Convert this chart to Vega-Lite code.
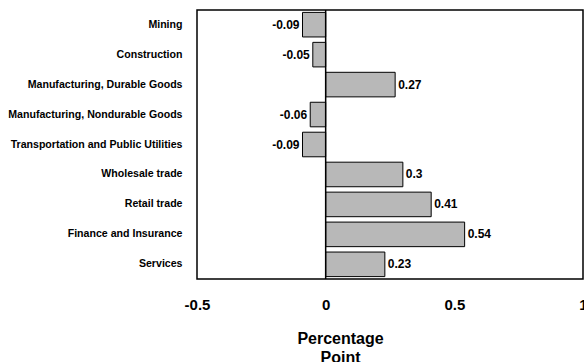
{
  "$schema": "https://vega.github.io/schema/vega-lite/v6.json",
  "width": 386,
  "height": 269,
  "autosize": "none",
  "padding": {"left": 197, "top": 10, "right": 1, "bottom": 83},
  "data": {
    "values": [
      {"sector": "Mining", "v": -0.09},
      {"sector": "Construction", "v": -0.05},
      {"sector": "Manufacturing, Durable Goods", "v": 0.27},
      {"sector": "Manufacturing, Nondurable Goods", "v": -0.06},
      {"sector": "Transportation and Public Utilities", "v": -0.09},
      {"sector": "Wholesale trade", "v": 0.3},
      {"sector": "Retail trade", "v": 0.41},
      {"sector": "Finance and Insurance", "v": 0.54},
      {"sector": "Services", "v": 0.23}
    ]
  },
  "encoding": {
    "y": {
      "field": "sector",
      "type": "nominal",
      "sort": null,
      "scale": {"paddingInner": 0.18, "paddingOuter": 0.08},
      "axis": {
        "title": null,
        "domain": false,
        "ticks": false,
        "labelPadding": 15,
        "labelFont": "Liberation Sans",
        "labelFontWeight": "bold",
        "labelFontSize": 10.6,
        "labelColor": "#000",
        "labelLimit": 300
      }
    }
  },
  "layer": [
    {
      "mark": {"type": "bar", "fill": "#b8b8b8", "stroke": "#000", "strokeWidth": 1},
      "encoding": {
        "x": {
          "field": "v",
          "type": "quantitative",
          "scale": {"domain": [-0.5, 1], "nice": false, "zero": false},
          "axis": {
            "values": [-0.5, 0, 0.5, 1],
            "labelExpr": "toString(datum.value)",
            "grid": false,
            "domain": false,
            "ticks": false,
            "labelPadding": 18,
            "labelFont": "Liberation Sans",
            "labelFontWeight": "bold",
            "labelFontSize": 15,
            "labelColor": "#000",
            "labelFlush": false,
            "labelOverlap": false,
            "title": ["Percentage", "Point"],
            "titleFont": "Liberation Sans",
            "titleFontWeight": "bold",
            "titleFontSize": 16,
            "titleColor": "#000",
            "titleLineHeight": 19,
            "titleX": 143,
            "titleY": 64,
            "titleAlign": "center",
            "titleAnchor": null,
            "titleBaseline": "alphabetic"
          }
        }
      }
    },
    {
      "mark": {"type": "rule", "color": "#000", "strokeWidth": 1.5},
      "data": {"values": [{"x0": 0}]},
      "encoding": {"x": {"field": "x0", "type": "quantitative"}, "y": null}
    },
    {
      "transform": [{"filter": "datum.v >= 0"}],
      "mark": {"type": "text", "align": "left", "baseline": "middle", "dx": 3, "font": "Liberation Sans", "fontWeight": "bold", "fontSize": 12, "color": "#000"},
      "encoding": {
        "x": {"field": "v", "type": "quantitative"},
        "text": {"field": "v", "type": "nominal"}
      }
    },
    {
      "transform": [{"filter": "datum.v < 0"}],
      "mark": {"type": "text", "align": "right", "baseline": "middle", "dx": -3, "font": "Liberation Sans", "fontWeight": "bold", "fontSize": 12, "color": "#000"},
      "encoding": {
        "x": {"field": "v", "type": "quantitative"},
        "text": {"field": "v", "type": "nominal"}
      }
    }
  ],
  "config": {
    "view": {"stroke": "#000", "strokeWidth": 1.5}
  }
}
